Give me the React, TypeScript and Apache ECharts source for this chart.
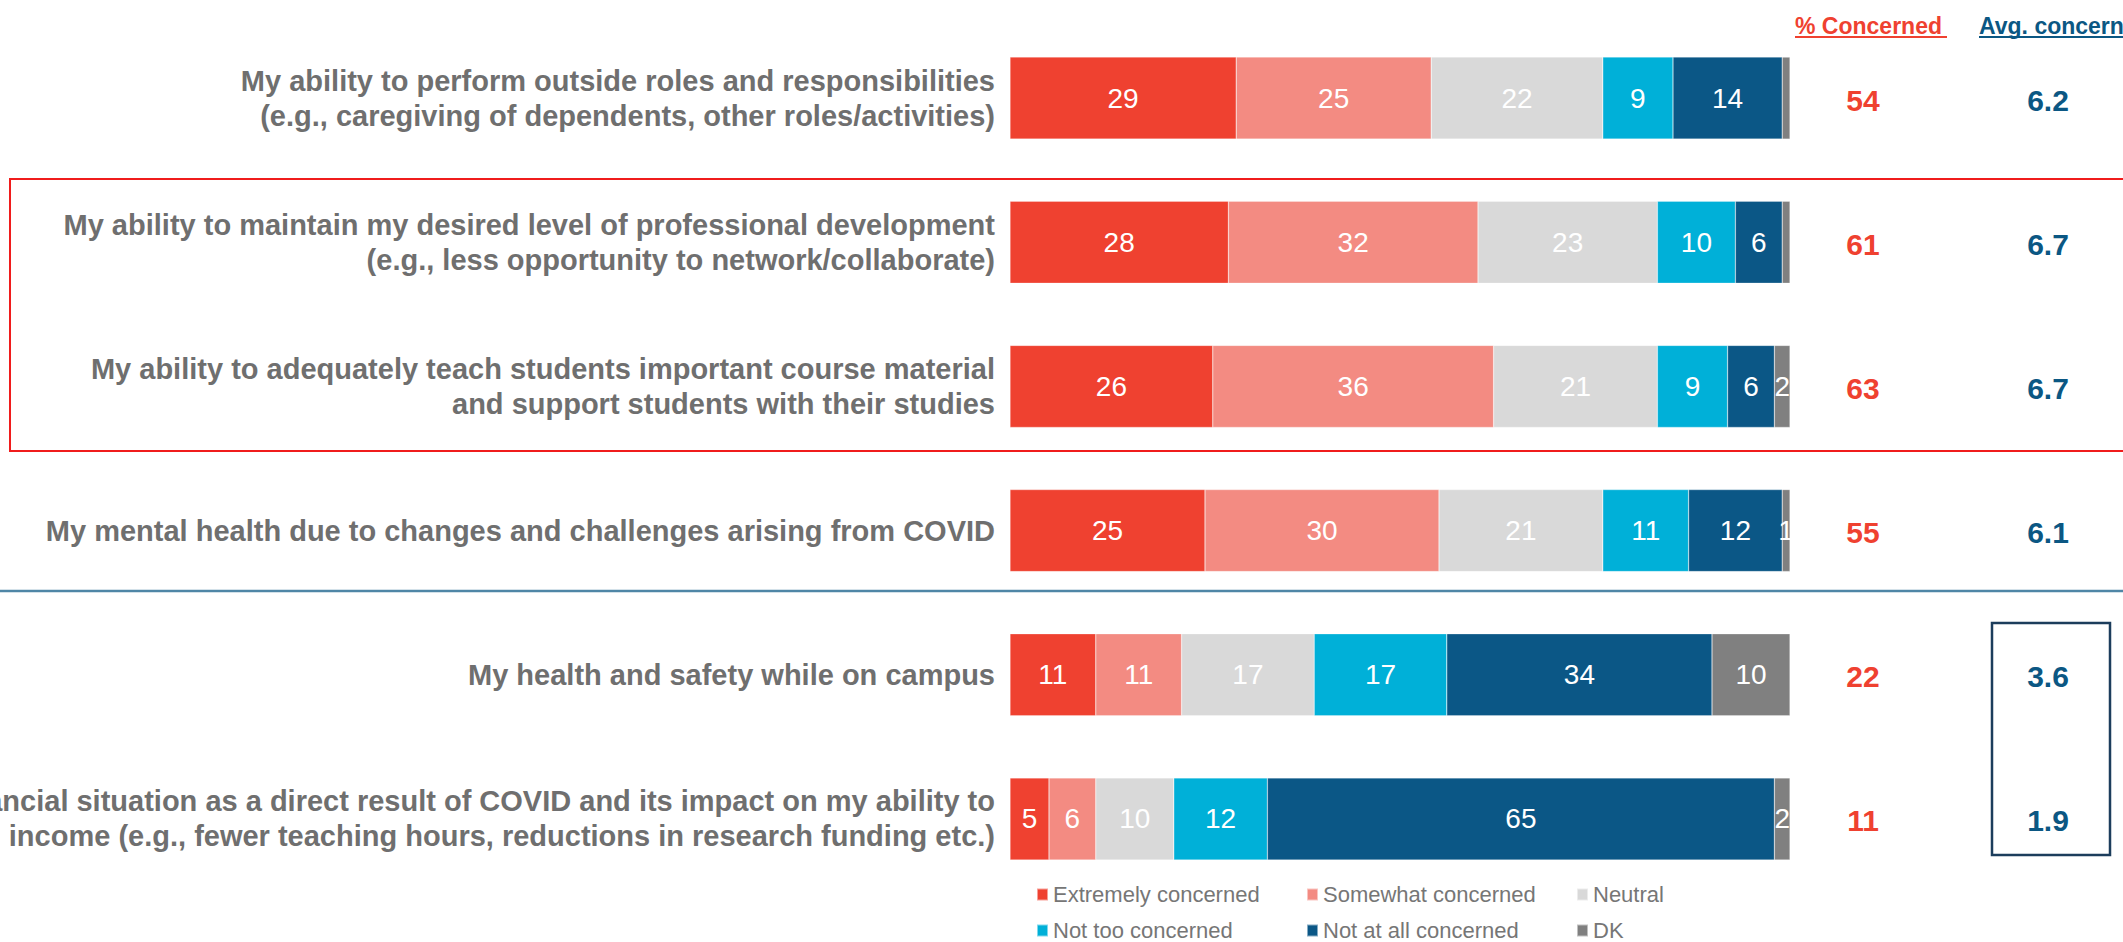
import React, { useEffect, useRef } from "react";
import * as echarts from "echarts";

const categories = [
  "My ability to perform outside roles and responsibilities\n(e.g., caregiving of dependents, other roles/activities)",
  "My ability to maintain my desired level of professional development\n(e.g., less opportunity to network/collaborate)",
  "My ability to adequately teach students important course material\nand support students with their studies",
  "My mental health due to changes and challenges arising from COVID",
  "My health and safety while on campus",
  "My financial situation as a direct result of COVID and its impact on my ability to\nearn income (e.g., fewer teaching hours, reductions in research funding etc.)",
];

const extremely = [29, 28, 26, 25, 11, 5];
const somewhat = [25, 32, 36, 30, 11, 6];
const neutral = [22, 23, 21, 21, 17, 10];
const notToo = [9, 10, 9, 11, 17, 12];
const notAtAll = [14, 6, 6, 12, 34, 65];
const dk = [1, 1, 2, 1, 10, 2];
const dkLabelShown = [false, false, true, true, true, true];

const pctConcerned = [54, 61, 63, 55, 22, 11];
const avgConcern = [6.2, 6.7, 6.7, 6.1, 3.6, 1.9];

const columnKeys = ["pct", "avg"];
const columnHeaders = ["% Concerned", "Avg. concern"];

const seriesNames = [
  "Extremely concerned",
  "Somewhat concerned",
  "Neutral",
  "Not too concerned",
  "Not at all concerned",
  "DK",
];
const seriesColors = ["#ef4130", "#f38b82", "#d9d9d9", "#00b0d8", "#0b5786", "#808080"];
const seriesValues = [extremely, somewhat, neutral, notToo, notAtAll, dk];

const FONT = "'Liberation Sans', Arial, Helvetica, sans-serif";

export default function App() {
  const ref = useRef<HTMLDivElement>(null);

  useEffect(() => {
    if (!ref.current) return;
    const chart = echarts.init(ref.current, undefined, { renderer: "svg" });

    const barSeries = seriesValues.map((vals, si) => ({
      name: seriesNames[si],
      type: "bar",
      stack: "total",
      xAxisIndex: 0,
      yAxisIndex: 0,
      barWidth: 82,
      itemStyle: { color: seriesColors[si], borderColor: "rgba(255,255,255,0.5)", borderWidth: 0.5 },
      label: {
        show: true,
        position: "inside",
        color: "#ffffff",
        fontFamily: FONT,
        fontSize: 28,
        formatter: (p: any) => String(p.value),
      },
      data: vals.map((v, i) =>
        si === 5 && !dkLabelShown[i] ? { value: v, label: { show: false } } : v
      ),
    }));

    const valueLabelSeries = (name: string, key: string, vals: number[], color: string, digits: number) => ({
      name,
      type: "scatter",
      xAxisIndex: 1,
      yAxisIndex: 1,
      symbolSize: 2,
      clip: false,
      itemStyle: { color: "rgba(0,0,0,0)", opacity: 1 },
      label: {
        show: true,
        position: "inside",
        color,
        textBorderWidth: 0,
        fontFamily: FONT,
        fontSize: 30,
        fontWeight: "bold",
        offset: [0, 2],
        formatter: (p: any) => vals[p.dataIndex].toFixed(digits),
      },
      data: vals.map((v, i) => [key, categories[i], v]),
    });

    const option: any = {
      animation: false,
      textStyle: { fontFamily: FONT },
      grid: [
        { left: 1010, right: 333, top: 26, bottom: 51, outerBoundsMode: "none", containLabel: false },
        { left: 1863, right: 75, top: 26, bottom: 51, outerBoundsMode: "none", containLabel: false },
      ],
      xAxis: [
        { type: "value", gridIndex: 0, min: 0, max: 100, show: false },
        { type: "category", gridIndex: 1, data: columnKeys, boundaryGap: false, show: false },
      ],
      yAxis: [
        {
          type: "category",
          gridIndex: 0,
          data: categories,
          inverse: true,
          axisLine: { show: false },
          axisTick: { show: false },
          splitLine: { show: false },
          axisLabel: {
            interval: 0,
            margin: 15,
            fontFamily: FONT,
            fontSize: 29,
            fontWeight: "bold",
            color: "#6f6f6f",
            lineHeight: 35,
            align: "right",
          },
        },
        { type: "category", gridIndex: 1, data: categories, inverse: true, show: false },
      ],
      legend: {
        data: seriesNames,
        left: 1031,
        top: 878,
        width: 800,
        orient: "horizontal",
        icon: "rect",
        itemWidth: 11,
        itemHeight: 12,
        itemGap: 13,
        textStyle: {
          fontFamily: FONT,
          fontSize: 22,
          color: "#767676",
          width: 240,
          lineHeight: 23,
        },
      },
      series: [
        ...barSeries,
        valueLabelSeries("pctConcerned", columnKeys[0], pctConcerned, "#ef4130", 0),
        valueLabelSeries("avgConcern", columnKeys[1], avgConcern, "#0b5783", 1),
      ],
      graphic: [
        {
          type: "text",
          x: 1795,
          y: 26,
          style: {
            text: columnHeaders[0],
            fill: "#ef4130",
            font: `bold 23px ${FONT}`,
            verticalAlign: "middle",
          },
        },
        {
          type: "line",
          shape: { x1: 1795, y1: 37, x2: 1947, y2: 37 },
          style: { stroke: "#ef4130", lineWidth: 2 },
        },
        {
          type: "text",
          x: 1979,
          y: 26,
          style: {
            text: columnHeaders[1],
            fill: "#0b5783",
            font: `bold 23px ${FONT}`,
            verticalAlign: "middle",
          },
        },
        {
          type: "line",
          shape: { x1: 1979, y1: 37, x2: 2123, y2: 37 },
          style: { stroke: "#0b5783", lineWidth: 2 },
        },
        {
          type: "rect",
          shape: { x: 10, y: 179, width: 2200, height: 272 },
          style: { fill: "none", stroke: "#f01c1c", lineWidth: 2 },
        },
        {
          type: "line",
          shape: { x1: 0, y1: 591, x2: 2123, y2: 591 },
          style: { stroke: "#4f86a6", lineWidth: 2.5 },
        },
        {
          type: "rect",
          shape: { x: 1992, y: 623, width: 118, height: 232 },
          style: { fill: "none", stroke: "#1c3d5c", lineWidth: 2.5 },
        },
      ],
    };

    chart.setOption(option);
    return () => chart.dispose();
  }, []);

  return (
    <div
      ref={ref}
      style={{ position: "fixed", left: 0, top: 0, width: 2123, height: 942, background: "#ffffff" }}
    />
  );
}
